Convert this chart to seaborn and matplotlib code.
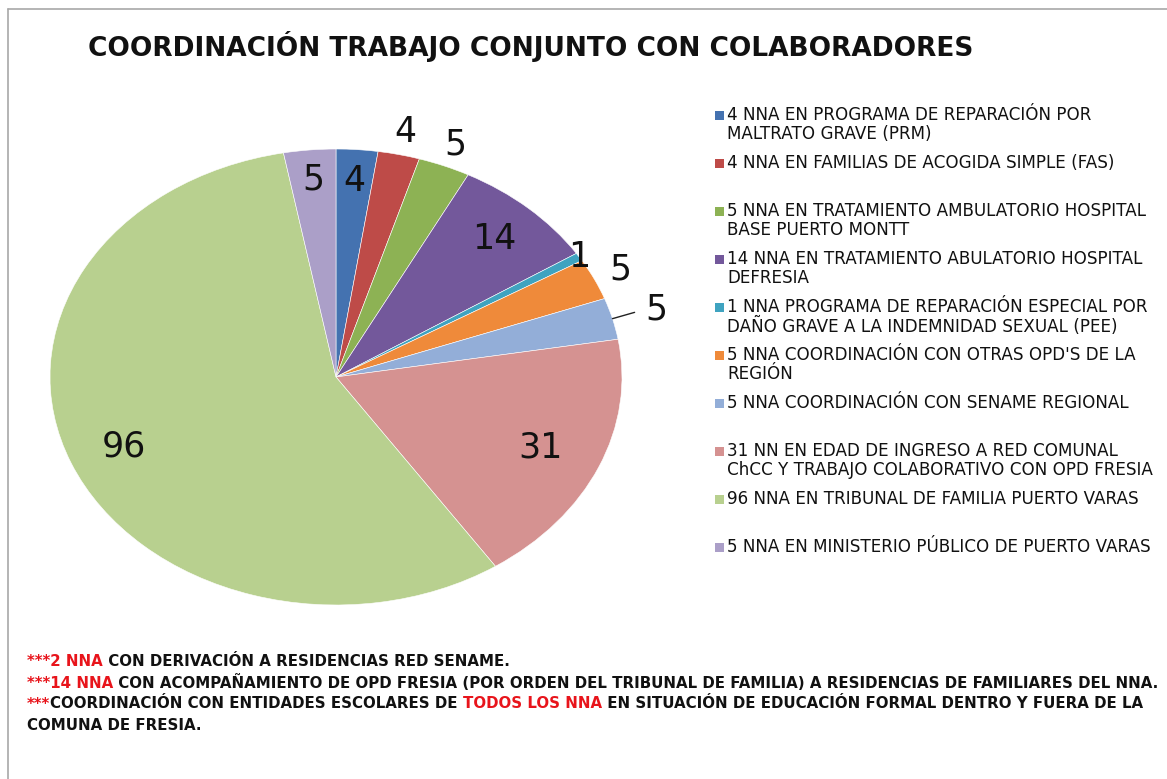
import matplotlib
matplotlib.use("Agg")
import numpy as np
import matplotlib.pyplot as plt
import seaborn as sns
from matplotlib.patches import Rectangle
from matplotlib.lines import Line2D

sns.set_theme(style="white")
plt.rcParams["font.family"] = ["DejaVu Sans"]

# -----------------------------
# Data
# -----------------------------
values = [4, 4, 5, 14, 1, 5, 5, 31, 96, 5]
labels = [
    "4 NNA EN PROGRAMA DE REPARACIÓN POR\nMALTRATO GRAVE (PRM)",
    "4 NNA EN FAMILIAS DE ACOGIDA SIMPLE (FAS)",
    "5 NNA EN TRATAMIENTO AMBULATORIO HOSPITAL\nBASE PUERTO MONTT",
    "14 NNA EN TRATAMIENTO ABULATORIO HOSPITAL\nDEFRESIA",
    "1 NNA PROGRAMA DE REPARACIÓN ESPECIAL POR\nDAÑO GRAVE A LA INDEMNIDAD SEXUAL (PEE)",
    "5 NNA COORDINACIÓN CON OTRAS OPD'S DE LA\nREGIÓN",
    "5 NNA COORDINACIÓN CON SENAME REGIONAL",
    "31 NN EN EDAD DE INGRESO A RED COMUNAL\nChCC Y TRABAJO COLABORATIVO CON OPD FRESIA",
    "96 NNA EN TRIBUNAL DE FAMILIA PUERTO VARAS",
    "5 NNA EN MINISTERIO PÚBLICO DE PUERTO VARAS",
]
colors = ["#4472B0", "#BE4B48", "#8DB254", "#73589B", "#3FA3C0",
          "#EF8A3A", "#93AED8", "#D59291", "#B8D08F", "#AB9FC8"]

# label distance from the centre (fraction of radius)
label_radius = [0.86, 1.10, 1.10, 0.82, 1.00, 1.10, 1.16, 0.78, 0.80, 0.87]

title = "COORDINACIÓN TRABAJO CONJUNTO CON COLABORADORES"

# footnote lines: list of (text, color) pieces
notes = [
    [("***2 NNA", "#E8141B"), (" CON DERIVACIÓN A RESIDENCIAS RED SENAME.", "#111111")],
    [("***14 NNA", "#E8141B"),
     (" CON ACOMPAÑAMIENTO DE OPD FRESIA (POR ORDEN DEL TRIBUNAL DE FAMILIA) A RESIDENCIAS DE FAMILIARES DEL NNA.", "#111111")],
    [("***", "#E8141B"), ("COORDINACIÓN CON ENTIDADES ESCOLARES DE ", "#111111"),
     ("TODOS LOS NNA", "#E8141B"),
     (" EN SITUACIÓN DE EDUCACIÓN FORMAL DENTRO Y FUERA DE LA", "#111111")],
    [("COMUNA DE FRESIA.", "#111111")],
]

# -----------------------------
# Figure
# -----------------------------
W, H = 1167, 779
fig = plt.figure(figsize=(W / 100, H / 100), dpi=100)
fig.patch.set_facecolor("white")

# pie axes (elliptical pie, aspect not equal)
cx, cy, rx, ry = 336, 377, 286, 228
ax = fig.add_axes([(cx - rx) / W, 1 - (cy + ry) / H, 2 * rx / W, 2 * ry / H])

wedges, _ = ax.pie(
    values,
    colors=colors,
    startangle=90,
    counterclock=False,
    radius=1,
    wedgeprops=dict(edgecolor="white", linewidth=0.4),
)
ax.set_aspect("auto")
ax.set_xlim(-1, 1)
ax.set_ylim(-1, 1)
ax.axis("off")

for w, v, r in zip(wedges, values, label_radius):
    ang = np.deg2rad((w.theta1 + w.theta2) / 2)
    ax.text(r * np.cos(ang), r * np.sin(ang), str(v),
            ha="center", va="center", fontsize=25, color="#111111", clip_on=False)
    if r > 1.12:
        ax.plot([1.0 * np.cos(ang), 1.08 * np.cos(ang)],
                [1.0 * np.sin(ang), 1.03 * np.sin(ang) + 0.02],
                color="#222222", lw=1, clip_on=False)

# title
fig.text(531 / W, 1 - 46 / H, title, ha="center", va="center",
         fontsize=19, fontweight="bold", color="#111111")

# legend (manual, fixed slot per entry)
for i, (lab, col) in enumerate(zip(labels, colors)):
    y = 115 + i * 48
    fig.patches.append(Rectangle((715 / W, 1 - (y + 5) / H), 9 / W, 9 / H,
                                 transform=fig.transFigure, facecolor=col,
                                 edgecolor="none"))
    fig.text(727 / W, 1 - (y - 9) / H, lab, ha="left", va="top",
             fontsize=12.1, color="#111111", linespacing=1.05)

# footnotes with mixed colours
fig.canvas.draw()
renderer = fig.canvas.get_renderer()
for j, line in enumerate(notes):
    x = 27 / W
    y = 1 - (662 + j * 21) / H
    for txt, col in line:
        t = fig.text(x, y, txt, ha="left", va="center", fontsize=10.78,
                     fontweight="bold", color=col)
        bb = t.get_window_extent(renderer=renderer)
        x = bb.x1 / W

# light grey frame (top and left edges visible)
fig.add_artist(Line2D([8 / W, 1.01], [1 - 9 / H, 1 - 9 / H],
                      transform=fig.transFigure, color="#A8A8A8", lw=1.2))
fig.add_artist(Line2D([8 / W, 8 / W], [-0.01, 1 - 9 / H],
                      transform=fig.transFigure, color="#A8A8A8", lw=1.2))

fig.savefig("out.png", dpi=100, facecolor="white")
